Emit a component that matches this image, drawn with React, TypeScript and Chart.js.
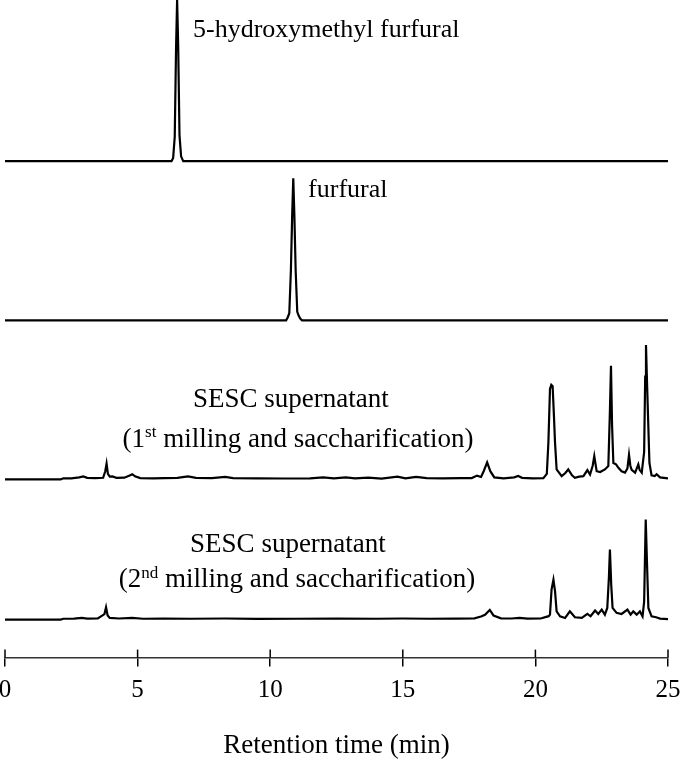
import React, { useEffect, useRef } from "react";
import { Chart, registerables } from "chart.js";

Chart.register(...registerables);

// ---------- data (retention time in min, detector signal in arbitrary units) ----------
const hmfTime = [0, 6.28, 6.34, 6.4, 6.45, 6.49, 6.53, 6.58, 6.64, 6.72, 25];
const hmfValue = [0, 0, 2, 15, 70, 100, 72, 16, 3, 0, 0];

const furTime = [0, 10.6, 10.66, 10.72, 10.78, 10.83, 10.87, 10.91, 10.96, 11.02, 11.08, 11.14, 11.2, 25];
const furValue = [0, 0, 2, 5, 35, 75, 100, 75, 35, 6, 3, 1, 0, 0];

const sesc1Time = [
  0, 2.1, 2.2, 2.5, 2.8, 2.95, 3.1, 3.4, 3.7, 3.78, 3.83, 3.88, 3.95, 4.05, 4.2, 4.5, 4.7, 4.8, 4.9, 5.1,
  5.6, 6.0, 6.5, 6.9, 7.2, 7.8, 8.3, 8.6, 9.5, 10.5, 11.5, 12.0, 12.4, 12.85, 13.2, 13.7, 14.2, 14.8, 15.1,
  15.5, 15.9, 16.5, 17.2, 17.6, 17.8, 17.95, 18.05, 18.18, 18.3, 18.45, 18.8, 19.2, 19.35, 19.5, 19.9,
  20.3, 20.43, 20.49, 20.55, 20.6, 20.65, 20.7, 20.74, 20.8, 20.99, 21.12, 21.24, 21.38, 21.49, 21.65,
  21.81, 21.96, 22.06, 22.16, 22.22, 22.31, 22.44, 22.62, 22.75, 22.81, 22.85, 22.89, 22.94, 23.04,
  23.13, 23.25, 23.38, 23.47, 23.53, 23.58, 23.63, 23.76, 23.84, 23.88, 23.93, 24.01, 24.1, 24.14,
  24.17, 24.21, 24.3, 24.38, 24.5, 24.57, 24.7, 25,
];
const sesc1Value = [
  0, 0, 0.8, 0.8, 1.5, 2.2, 1.2, 1.0, 1.2, 6, 11.5, 4, 2, 2.2, 1.2, 1.3, 2.8, 3.8, 2.3, 1.0,
  0.8, 1.0, 1.2, 2.2, 1.2, 1.0, 1.8, 1.0, 0.8, 0.7, 0.8, 1.5, 0.8, 1.5, 0.8, 1.3, 0.6, 2.0, 0.8,
  1.8, 0.9, 0.8, 0.9, 1.0, 2.8, 1.8, 6, 12.5, 6, 1.5, 0.8, 1.5, 2.5, 1.2, 0.8,
  0.9, 4, 27, 66, 69, 68, 46, 27, 7.3, 2.4, 4.5, 7.3, 3, 1.2, 2,
  2.4, 6.8, 3.6, 10, 17, 6, 5.4, 7.3, 9.7, 50, 83, 40, 12, 11,
  8.5, 6, 5, 8, 18, 10, 7, 5, 9, 11, 7, 5, 20, 75,
  98, 70, 12, 3, 2.5, 3.8, 1.5, 0.8,
];

const sesc2Time = [
  0, 2.1, 2.2, 2.6, 2.9, 3.1, 3.5, 3.75, 3.81, 3.87, 3.95, 4.3, 4.8, 5.2, 6.0, 7.0, 8.3, 9.5, 11.0,
  12.5, 14.0, 15.0, 16.0, 17.0, 17.7, 17.95, 18.1, 18.28, 18.42, 18.7, 19.1, 19.4, 19.7, 20.2,
  20.5, 20.55, 20.61, 20.68, 20.74, 20.8, 20.93, 21.12, 21.3, 21.49, 21.75, 21.96, 22.08, 22.25,
  22.37, 22.5, 22.62, 22.71, 22.77, 22.81, 22.86, 22.91, 23.06, 23.25, 23.47, 23.59, 23.69, 23.82,
  23.94, 24.04, 24.1, 24.16, 24.21, 24.26, 24.38, 24.55, 24.7, 25,
];
const sesc2Value = [
  0, 0, 0.6, 0.7, 1.2, 0.7, 0.8, 4, 9, 3, 1.2, 0.8, 1.3, 0.6, 0.7, 0.6, 0.8, 0.5, 0.6,
  0.7, 0.6, 0.8, 0.6, 0.7, 0.9, 2.2, 3.5, 7, 3, 0.9, 0.8, 1.2, 0.7, 0.8,
  2.5, 3.6, 22, 29, 20.7, 6, 2.4, 1.2, 6, 1.7, 1.2, 4.1, 2.4, 6.6,
  4.1, 7.3, 3.6, 8.5, 30, 51, 25, 8.5, 4.9, 4.1, 7.3, 3.6, 6, 3.6,
  6, 2.4, 13, 73, 40, 8.5, 2.4, 1.7, 0.7, 0.3,
];

const xTicks = [0, 5, 10, 15, 20, 25];
const xTitle = "Retention time (min)";

// label texts (parts with sup:true are superscripts)
const labelHmf = [{ t: "5-hydroxymethyl furfural" }];
const labelFur = [{ t: "furfural" }];
const labelS1a = [{ t: "SESC supernatant" }];
const labelS1b = [{ t: "(1" }, { t: "st", sup: true }, { t: " milling and saccharification)" }];
const labelS2a = [{ t: "SESC supernatant" }];
const labelS2b = [{ t: "(2" }, { t: "nd", sup: true }, { t: " milling and saccharification)" }];

const FONT = '"Liberation Serif", "Times New Roman", serif';

const toPoints = (xs: number[], ys: number[]) => xs.map((x, i) => ({ x, y: ys[i] }));

export default function App() {
  const ref = useRef<HTMLCanvasElement | null>(null);

  useEffect(() => {
    if (!ref.current) return;

    const annotations = [
      { axis: "yHmf", x: 7.09, y: 77, align: "left", size: 26, parts: labelHmf },
      { axis: "yFur", x: 11.43, y: 87, align: "left", size: 26, parts: labelFur },
      { axis: "yS1", x: 10.78, y: 52.6, align: "center", size: 27, parts: labelS1a },
      { axis: "yS1", x: 11.05, y: 24, align: "center", size: 27, parts: labelS1b },
      { axis: "yS2", x: 10.67, y: 49, align: "center", size: 27, parts: labelS2a },
      { axis: "yS2", x: 11.01, y: 23.4, align: "center", size: 27, parts: labelS2b },
    ];

    const labelPlugin = {
      id: "panelLabels",
      afterDatasetsDraw(chart: any) {
        const ctx = chart.ctx;
        const xs = chart.scales.x;
        ctx.save();
        ctx.fillStyle = "#000";
        ctx.textBaseline = "alphabetic";
        ctx.textAlign = "left";
        for (const a of annotations) {
          const ys = chart.scales[a.axis];
          const px = xs.getPixelForValue(a.x);
          const py = ys.getPixelForValue(a.y);
          const fontFor = (p: any) => (p.sup ? Math.round(a.size * 0.62) : a.size) + "px " + FONT;
          const widths = a.parts.map((p: any) => {
            ctx.font = fontFor(p);
            return ctx.measureText(p.t).width;
          });
          const total = widths.reduce((s: number, w: number) => s + w, 0);
          let cx = a.align === "center" ? px - total / 2 : px;
          a.parts.forEach((p: any, i: number) => {
            ctx.font = fontFor(p);
            ctx.fillText(p.t, cx, p.sup ? py - a.size * 0.36 : py);
            cx += widths[i];
          });
        }
        ctx.restore();
      },
      afterDraw(chart: any) {
        // upper half of the tick marks that cross the time axis
        const ctx = chart.ctx;
        const xs = chart.scales.x;
        ctx.save();
        ctx.strokeStyle = "#000";
        ctx.lineWidth = 1.5;
        for (const t of xs.ticks) {
          const px = xs.getPixelForValue(t.value);
          ctx.beginPath();
          ctx.moveTo(px, xs.top - 8);
          ctx.lineTo(px, xs.top);
          ctx.stroke();
        }
        ctx.restore();
      },
    };

    const ds = (data: any, axis: string) => ({
      data,
      yAxisID: axis,
      borderColor: "#000",
      borderWidth: 2.2,
      pointRadius: 0,
      fill: false,
      tension: 0,
    });

    const yPanel = (min: number, max: number, weight: number, order: number) => ({
      type: "linear",
      position: "left",
      stack: "panels",
      stackWeight: weight,
      weight: order,
      min,
      max,
      display: false,
    });

    const chart = new Chart(ref.current, {
      type: "line",
      data: {
        datasets: [
          ds(toPoints(hmfTime, hmfValue), "yHmf"),
          ds(toPoints(furTime, furValue), "yFur"),
          ds(toPoints(sesc1Time, sesc1Value), "yS1"),
          ds(toPoints(sesc2Time, sesc2Value), "yS2"),
        ],
      },
      options: {
        animation: false,
        responsive: false,
        devicePixelRatio: 1,
        layout: { padding: { left: 5, right: 17, top: 0, bottom: 0 } },
        plugins: { legend: { display: false }, tooltip: { enabled: false } },
        scales: {
          x: {
            type: "linear",
            min: 0,
            max: 25,
            afterBuildTicks: (scale: any) => {
              scale.ticks = xTicks.map((v) => ({ value: v }));
            },
            afterFit: (scale: any) => {
              scale.paddingLeft = 0;
              scale.paddingRight = 0;
            },
            grid: {
              drawOnChartArea: false,
              drawTicks: true,
              tickLength: 9,
              color: "#000",
              lineWidth: 1.5,
            },
            border: { display: true, color: "#333", width: 1.5 },
            ticks: {
              font: { family: FONT, size: 25 },
              color: "#000",
              padding: 9,
              maxRotation: 0,
              autoSkip: false,
            },
            title: {
              display: true,
              text: xTitle,
              font: { family: FONT, size: 27 },
              color: "#000",
              padding: { top: 15, bottom: 5 },
            },
          },
          yHmf: yPanel(-3.1, 100, 166, 4),
          yFur: yPanel(-2.11, 108.5, 157, 3),
          yS1: yPanel(-3.65, 113.9, 161, 2),
          yS2: yPanel(-27.7, 98.5, 173, 1),
        } as any,
      },
      plugins: [labelPlugin],
    } as any);

    return () => chart.destroy();
  }, []);

  return (
    <div style={{ position: "fixed", left: 0, top: 0, width: 685, height: 767, background: "#fff" }}>
      <canvas ref={ref} width={685} height={767} />
    </div>
  );
}
